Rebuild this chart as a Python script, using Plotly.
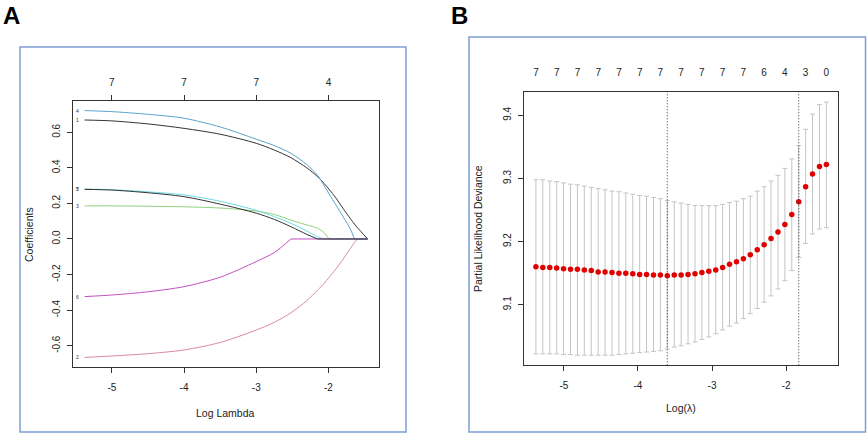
import plotly.graph_objects as go

W, H = 867, 434

# ---- panel B: cross-validation curve ----
loglam = [-5.377, -5.284, -5.190, -5.097, -5.004, -4.910, -4.817, -4.724, -4.630, -4.537,
          -4.444, -4.350, -4.257, -4.164, -4.070, -3.977, -3.884, -3.790, -3.697, -3.604,
          -3.510, -3.417, -3.324, -3.230, -3.137, -3.044, -2.950, -2.857, -2.764, -2.670,
          -2.577, -2.484, -2.390, -2.297, -2.204, -2.110, -2.017, -1.924, -1.830, -1.737,
          -1.644, -1.550, -1.457]
cvm = [9.160, 9.159, 9.159, 9.158, 9.157, 9.156, 9.156, 9.155, 9.154, 9.152,
       9.152, 9.151, 9.150, 9.150, 9.149, 9.148, 9.148, 9.147, 9.147, 9.146,
       9.147, 9.147, 9.148, 9.149, 9.151, 9.153, 9.155, 9.159, 9.164, 9.168,
       9.173, 9.179, 9.187, 9.195, 9.205, 9.215, 9.227, 9.243, 9.263, 9.287,
       9.307, 9.319, 9.322]
cvup = [9.298, 9.298, 9.296, 9.295, 9.293, 9.291, 9.290, 9.288, 9.286, 9.284,
        9.282, 9.280, 9.279, 9.277, 9.275, 9.273, 9.272, 9.270, 9.268, 9.265,
        9.263, 9.261, 9.259, 9.257, 9.257, 9.257, 9.257, 9.259, 9.262, 9.264,
        9.268, 9.272, 9.280, 9.287, 9.296, 9.305, 9.316, 9.331, 9.352, 9.378,
        9.402, 9.417, 9.421]
cvlo = [9.022, 9.022, 9.022, 9.022, 9.021, 9.021, 9.020, 9.020, 9.020, 9.020,
        9.020, 9.020, 9.021, 9.022, 9.023, 9.024, 9.025, 9.026, 9.027, 9.030,
        9.033, 9.035, 9.038, 9.041, 9.045, 9.049, 9.054, 9.060, 9.066, 9.071,
        9.078, 9.086, 9.094, 9.104, 9.114, 9.125, 9.138, 9.154, 9.175, 9.197,
        9.212, 9.220, 9.222]
nzero_b = ["7", "7", "7", "7", "7", "7", "7", "7", "7", "7", "7", "6", "4", "3", "0"]

# ---- panel A: coefficient paths ----
path_loglam = [-5.377, -5.0, -4.5, -4.0, -3.5, -3.0, -2.75, -2.52, -2.3, -2.15,
               -2.06, -1.99, -1.9, -1.8, -1.7, -1.64, -1.6, -1.457]
coef_1 = [0.669, 0.664, 0.647, 0.622, 0.589, 0.538, 0.500, 0.457, 0.400, 0.350,
          0.312, 0.279, 0.232, 0.173, 0.116, 0.084, 0.064, 0.0]
coef_2 = [-0.666, -0.658, -0.645, -0.624, -0.582, -0.512, -0.469, -0.415, -0.347, -0.287,
          -0.250, -0.215, -0.170, -0.115, -0.055, -0.020, 0.0, 0.0]
coef_3 = [0.186, 0.186, 0.184, 0.181, 0.174, 0.157, 0.138, 0.106, 0.079, 0.060,
          0.035, 0.0, 0.0, 0.0, 0.0, 0.0, 0.0, 0.0]
coef_4 = [0.722, 0.716, 0.701, 0.679, 0.630, 0.561, 0.525, 0.482, 0.418, 0.357,
          0.300, 0.252, 0.193, 0.127, 0.058, 0.0, 0.0, 0.0]
coef_5 = [0.281, 0.277, 0.265, 0.248, 0.212, 0.161, 0.126, 0.088, 0.045, 0.013,
          0.0, 0.0, 0.0, 0.0, 0.0, 0.0, 0.0, 0.0]
coef_6 = [-0.324, -0.315, -0.297, -0.268, -0.215, -0.127, -0.076, 0.0, 0.0, 0.0,
          0.0, 0.0, 0.0, 0.0, 0.0, 0.0, 0.0, 0.0]
coef_7 = [0.279, 0.275, 0.260, 0.238, 0.196, 0.145, 0.110, 0.069, 0.026, 0.0,
          0.0, 0.0, 0.0, 0.0, 0.0, 0.0, 0.0, 0.0]
var_names = ["1", "2", "3", "4", "5", "6", "7"]
var_colors = ["#333333", "#d98a9c", "#8fd080", "#5aa3cc", "#6adbe0", "#c050c0", "#333333"]

top_a_vals = [-5, -4, -3, -2]
top_a_text = ["7", "7", "7", "4"]

xticks = [-5, -4, -3, -2]
yticks_a = [-0.6, -0.4, -0.2, 0.0, 0.2, 0.4, 0.6]
yticks_b = [9.1, 9.2, 9.3, 9.4]

FONT = "Liberation Sans, Arial, sans-serif"
TXT = "#222222"


def pad(lo, hi):
    # R default 4% axis padding
    d = (hi - lo) * 0.04
    return [lo - d, hi + d]


def px_x(p):
    return p / W


def px_y(p):
    return 1 - p / H


fig = go.Figure()

# coefficient paths (drawn in variable order, last on top);
# the curved part is smoothed, the part that sits at zero stays straight
coefs = [coef_1, coef_2, coef_3, coef_4, coef_5, coef_6, coef_7]
for name, vals, col in zip(var_names, coefs, var_colors):
    k = vals.index(0.0)
    fig.add_trace(go.Scatter(
        x=path_loglam[:k + 1], y=vals[:k + 1], mode="lines",
        line=dict(color=col, width=1, shape="spline", smoothing=0.8),
        showlegend=False, hoverinfo="skip",
        xaxis="x", yaxis="y",
    ))
    fig.add_trace(go.Scatter(
        x=path_loglam[k:], y=vals[k:], mode="lines",
        line=dict(color=col, width=1),
        showlegend=False, hoverinfo="skip",
        xaxis="x", yaxis="y",
    ))
    fig.add_annotation(
        x=path_loglam[0], y=vals[0], xref="x", yref="y",
        text=name, showarrow=False, xanchor="right", yanchor="middle", xshift=-4,
        font=dict(size=5, color="#333", family=FONT),
    )

# cv curve with error bars
err_up = [u - m for u, m in zip(cvup, cvm)]
err_lo = [m - l for m, l in zip(cvm, cvlo)]
fig.add_trace(go.Scatter(
    x=loglam, y=cvm, mode="markers",
    marker=dict(color="#e00000", size=5.5),
    error_y=dict(type="data", symmetric=False, array=err_up, arrayminus=err_lo,
                 color="#c4c4c4", thickness=1, width=2.5),
    showlegend=False, hoverinfo="skip",
    xaxis="x2", yaxis="y2",
))

# dummy traces so the top axes get drawn
fig.add_trace(go.Scatter(x=top_a_vals, y=[None] * len(top_a_vals), xaxis="x3", yaxis="y",
                         showlegend=False, hoverinfo="skip"))
top_b_vals = loglam[::3]
fig.add_trace(go.Scatter(x=top_b_vals, y=[None] * len(top_b_vals), xaxis="x4", yaxis="y2",
                         showlegend=False, hoverinfo="skip"))

# lambda.min and lambda.1se
i_min = cvm.index(min(cvm))
thresh = cvup[i_min]
i_1se = max(i for i, v in enumerate(cvm) if v <= thresh)
for i in (i_min, i_1se):
    fig.add_shape(type="line", xref="x2", yref="y2 domain",
                  x0=loglam[i], x1=loglam[i], y0=0, y1=1,
                  line=dict(color="#333", width=1, dash="1px,2px"))

xr_a = pad(path_loglam[0], path_loglam[-1])
yr_a = pad(min(min(c) for c in coefs), max(max(c) for c in coefs))
xr_b = pad(loglam[0], loglam[-1])
yr_b = pad(min(cvlo), max(cvup))

dom_ax = [px_x(73.3), px_x(379)]
dom_ay = [px_y(367.3), px_y(100.7)]
dom_bx = [px_x(524.3), px_x(838)]
dom_by = [px_y(365.3), px_y(92)]

axis_common = dict(
    showgrid=False, zeroline=False, showline=True, mirror=True,
    linecolor="#333", linewidth=1,
    ticks="outside", ticklen=5, tickcolor="#333",
    tickfont=dict(size=10, color=TXT, family=FONT),
)


def fmt(vals, nd):
    return [f"{v:.{nd}f}" for v in vals]


fig.update_layout(
    width=W, height=H, autosize=False,
    margin=dict(l=0, r=0, t=0, b=0),
    paper_bgcolor="white", plot_bgcolor="white",
    font=dict(family=FONT, color=TXT),
    xaxis=dict(axis_common, domain=dom_ax, anchor="y", range=xr_a,
               tickvals=xticks, ticktext=fmt(xticks, 0), ticklabelstandoff=6),
    yaxis=dict(axis_common, domain=dom_ay, anchor="x", range=yr_a,
               tickvals=yticks_a, ticktext=fmt(yticks_a, 1), tickangle=-90,
               ticklabelstandoff=3),
    xaxis2=dict(axis_common, domain=dom_bx, anchor="y2", range=xr_b,
                tickvals=xticks, ticktext=fmt(xticks, 0), ticklabelstandoff=6),
    yaxis2=dict(axis_common, domain=dom_by, anchor="x2", range=yr_b,
                tickvals=yticks_b, ticktext=fmt(yticks_b, 1), tickangle=-90,
                ticklabelstandoff=3),
    xaxis3=dict(axis_common, overlaying="x", anchor="y", side="top", range=xr_a,
                showline=False, tickvals=top_a_vals, ticktext=top_a_text,
                ticklabelstandoff=5),
    xaxis4=dict(axis_common, overlaying="x2", anchor="y2", side="top", range=xr_b,
                showline=False, ticks="", tickvals=top_b_vals, ticktext=nzero_b,
                ticklabelstandoff=13),
)

# axis titles and panel letters
title_font = dict(size=10.5, color=TXT, family=FONT)
ann = dict(xref="paper", yref="paper", showarrow=False, xanchor="center", yanchor="middle")
fig.add_annotation(ann, x=px_x(226), y=px_y(413), text="Log Lambda", font=title_font)
fig.add_annotation(ann, x=px_x(29), y=px_y(234), text="Coefficients", textangle=-90,
                   font=title_font)
fig.add_annotation(ann, x=px_x(681), y=px_y(408), text="Log(λ)", font=title_font)
fig.add_annotation(ann, x=px_x(478), y=px_y(229), text="Partial Likelihood Deviance",
                   textangle=-90, font=title_font)
letter_font = dict(size=24, color="black", family="Liberation Sans, Arial, sans-serif")
fig.add_annotation(ann, x=px_x(11), y=px_y(16), text="<b>A</b>", font=letter_font)
fig.add_annotation(ann, x=px_x(459), y=px_y(15), text="<b>B</b>", font=letter_font)

# blue panel frames
for x0, y0, x1, y1 in ((20, 47, 406, 432), (469, 37, 865.5, 432)):
    fig.add_shape(type="rect", xref="paper", yref="paper",
                  x0=px_x(x0), y0=px_y(y1), x1=px_x(x1), y1=px_y(y0),
                  line=dict(color="#7f9fd3", width=1.5), layer="below")

# the page's default 8px body margin would shift the whole figure
fig.write_html("out.html", config={"displayModeBar": False},
               post_script="document.body.style.margin='0';"
                           "document.body.style.overflow='hidden';")
